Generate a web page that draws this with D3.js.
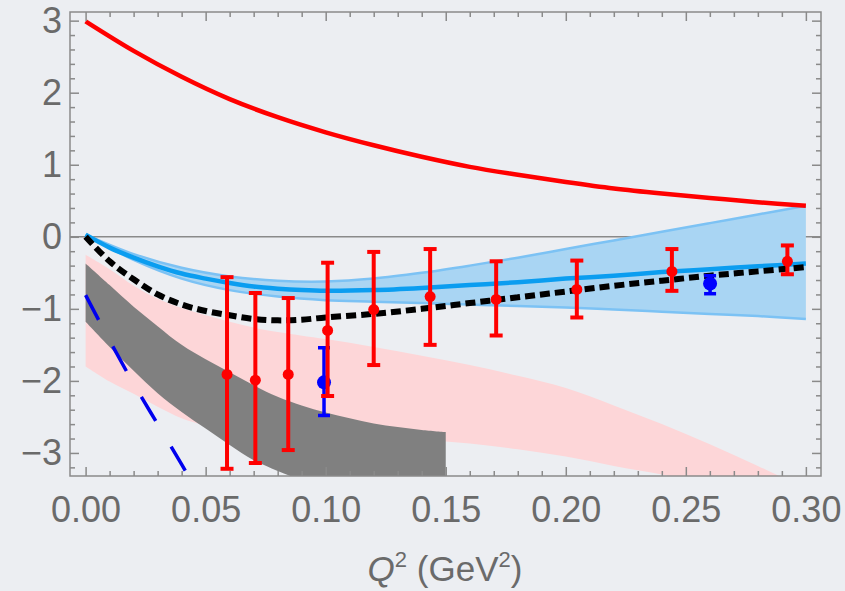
<!DOCTYPE html>
<html>
<head>
<meta charset="utf-8">
<script src="https://cdn.jsdelivr.net/npm/d3@7"></script>
<style>
  html, body { margin: 0; padding: 0; background: #eceef2; }
  svg { display: block; }
  .tick text { font-family: "Liberation Sans", Arial, sans-serif; fill: #6a6a6a; }
</style>
</head>
<body>
<svg id="chart"></svg>
<script>
const width = 845;
const height = 591;

// data: [Q2, value]
const redCurve = [[0, 2.99], [0.02, 2.58], [0.04, 2.22], [0.06, 1.91], [0.08, 1.66], [0.1, 1.45],
  [0.12, 1.27], [0.14, 1.11], [0.16, 0.97], [0.18, 0.86], [0.2, 0.76], [0.22, 0.67],
  [0.24, 0.6], [0.26, 0.54], [0.28, 0.48], [0.3, 0.43]];
const blueCurve = [[0, 0.03], [0.01, -0.15], [0.02, -0.29], [0.03, -0.41], [0.04, -0.51], [0.05, -0.58],
  [0.06, -0.64], [0.07, -0.69], [0.08, -0.72], [0.09, -0.74], [0.1, -0.75], [0.12, -0.74],
  [0.14, -0.71], [0.16, -0.67], [0.18, -0.63], [0.2, -0.58], [0.22, -0.54], [0.24, -0.49],
  [0.26, -0.45], [0.28, -0.41], [0.3, -0.37]];
const blueBandUpper = [[0, 0.03], [0.02, -0.24], [0.04, -0.43], [0.06, -0.55], [0.08, -0.61], [0.1, -0.62],
  [0.12, -0.58], [0.14, -0.5], [0.16, -0.4], [0.18, -0.29], [0.2, -0.17], [0.22, -0.05],
  [0.24, 0.07], [0.26, 0.19], [0.28, 0.31], [0.3, 0.43]];
const blueBandLower = [[0, 0.03], [0.02, -0.32], [0.04, -0.58], [0.06, -0.74], [0.08, -0.83], [0.1, -0.88],
  [0.12, -0.9], [0.14, -0.92], [0.16, -0.94], [0.18, -0.96], [0.2, -0.98], [0.22, -1.01],
  [0.24, -1.04], [0.26, -1.07], [0.28, -1.1], [0.3, -1.14]];
const blackCurve = [[0, 0], [0.01, -0.34], [0.02, -0.59], [0.03, -0.8], [0.04, -0.94], [0.05, -1.03],
  [0.06, -1.09], [0.07, -1.14], [0.08, -1.16], [0.09, -1.15], [0.1, -1.12], [0.12, -1.07],
  [0.14, -1.0], [0.16, -0.92], [0.18, -0.84], [0.2, -0.76], [0.22, -0.68], [0.24, -0.61],
  [0.26, -0.54], [0.28, -0.48], [0.3, -0.42]];
const pinkUpper = [[0, -0.25], [0.01, -0.45], [0.02, -0.68], [0.03, -0.86], [0.04, -0.99], [0.05, -1.09],
  [0.06, -1.18], [0.07, -1.26], [0.08, -1.32], [0.1, -1.42], [0.12, -1.53], [0.14, -1.65],
  [0.16, -1.78], [0.18, -1.93], [0.2, -2.1], [0.22, -2.34], [0.24, -2.6], [0.26, -2.88],
  [0.28, -3.18], [0.3, -3.5]];
const pinkLower = [[0, -1.8], [0.01, -2.01], [0.02, -2.18], [0.03, -2.36], [0.04, -2.52], [0.05, -2.62],
  [0.06, -2.68], [0.07, -2.72], [0.08, -2.74], [0.1, -2.77], [0.12, -2.79], [0.14, -2.82],
  [0.16, -2.87], [0.18, -2.95], [0.2, -3.05], [0.22, -3.18], [0.24, -3.3], [0.26, -3.45],
  [0.28, -3.6], [0.3, -3.75]];
const greyUpper = [[0, -0.37], [0.01, -0.67], [0.02, -0.97], [0.03, -1.24], [0.04, -1.5], [0.05, -1.7],
  [0.06, -1.88], [0.07, -2.06], [0.08, -2.22], [0.09, -2.34], [0.1, -2.44], [0.11, -2.52],
  [0.12, -2.59], [0.13, -2.64], [0.14, -2.68], [0.15, -2.71]];
const greyLower = [[0, -1.18], [0.01, -1.53], [0.02, -1.86], [0.03, -2.17], [0.04, -2.43], [0.05, -2.66],
  [0.06, -2.89], [0.07, -3.1], [0.08, -3.25], [0.09, -3.38], [0.1, -3.5], [0.12, -3.65],
  [0.15, -3.9]];
const blueDashed = [[0, -0.81], [0.01, -1.44], [0.02, -2.04], [0.03, -2.6], [0.04, -3.16], [0.045, -3.45]];

// points with error bars: [Q2, value, upper, lower]
const redPoints = [
  [0.0589, -1.91, -0.56, -3.22], [0.0707, -1.99, -0.78, -3.14], [0.0844, -1.91, -0.85, -2.96],
  [0.1008, -1.3, -0.36, -2.21], [0.120, -1.01, -0.21, -1.78], [0.1435, -0.83, -0.17, -1.5],
  [0.171, -0.87, -0.34, -1.37], [0.2046, -0.73, -0.33, -1.12], [0.2442, -0.48, -0.17, -0.75],
  [0.2923, -0.34, -0.12, -0.52]];
const bluePoints = [[0.0993, -2.02, -1.54, -2.48], [0.2601, -0.65, -0.54, -0.79]];

const xMajor = [0, 0.05, 0.1, 0.15, 0.2, 0.25, 0.3];
const yMajor = [-3, -2, -1, 0, 1, 2, 3];

const x = d3.scaleLinear().domain([-0.0065, 0.3063]).range([70, 821]);
const y = d3.scaleLinear().domain([-3.32, 3.12]).range([476, 12]);

const svg = d3.select("#chart").attr("width", width).attr("height", height);

svg.append("rect").attr("width", width).attr("height", height).attr("fill", "#eceef2");

svg.append("clipPath").attr("id", "plot-clip")
  .append("rect")
  .attr("x", x.range()[0]).attr("y", y.range()[1])
  .attr("width", x.range()[1] - x.range()[0])
  .attr("height", y.range()[0] - y.range()[1]);

const plot = svg.append("g").attr("clip-path", "url(#plot-clip)");

const curve = d3.curveCatmullRom.alpha(0.5);
const line = d3.line().x((d) => x(d[0])).y((d) => y(d[1])).curve(curve);

const bandArea = (upper, lower) => {
  const up = line(upper);
  const lo = line(lower.slice().reverse());
  return up + "L" + lo.slice(1) + "Z";
};

// zero line
plot.append("line")
  .attr("x1", x.range()[0]).attr("x2", x.range()[1])
  .attr("y1", y(0)).attr("y2", y(0))
  .attr("stroke", "#8a8a8a").attr("stroke-width", 1.5);

// pink band
plot.append("path").attr("d", bandArea(pinkUpper, pinkLower)).attr("fill", "#fdd6d8");
// grey band
plot.append("path").attr("d", bandArea(greyUpper, greyLower)).attr("fill", "#808080");
// blue band
plot.append("path").attr("d", bandArea(blueBandUpper, blueBandLower)).attr("fill", "#a9d5f3");
plot.append("path").attr("d", line(blueBandUpper)).attr("fill", "none")
  .attr("stroke", "#7cc2f4").attr("stroke-width", 2.5);
plot.append("path").attr("d", line(blueBandLower)).attr("fill", "none")
  .attr("stroke", "#7cc2f4").attr("stroke-width", 2.5);

// blue dashed line
plot.append("path").attr("d", line(blueDashed)).attr("fill", "none")
  .attr("stroke", "#0000ee").attr("stroke-width", 3.5)
  .attr("stroke-dasharray", "28 30");

// red curve
plot.append("path").attr("d", line(redCurve)).attr("fill", "none")
  .attr("stroke", "#ff0000").attr("stroke-width", 4.5);

// blue curve
plot.append("path").attr("d", line(blueCurve)).attr("fill", "none")
  .attr("stroke", "#0b9df0").attr("stroke-width", 4.5);

// black dotted curve
plot.append("path").attr("d", line(blackCurve)).attr("fill", "none")
  .attr("stroke", "#000").attr("stroke-width", 6)
  .attr("stroke-dasharray", "10 5");

const drawPoints = (data, color, r, sw, cap) => {
  const g = plot.append("g");
  g.selectAll("line.bar").data(data).join("line")
    .attr("x1", (d) => x(d[0])).attr("x2", (d) => x(d[0]))
    .attr("y1", (d) => y(d[2])).attr("y2", (d) => y(d[3]))
    .attr("stroke", color).attr("stroke-width", sw);
  g.selectAll("line.top").data(data).join("line")
    .attr("x1", (d) => x(d[0]) - cap / 2).attr("x2", (d) => x(d[0]) + cap / 2)
    .attr("y1", (d) => y(d[2])).attr("y2", (d) => y(d[2]))
    .attr("stroke", color).attr("stroke-width", sw);
  g.selectAll("line.bot").data(data).join("line")
    .attr("x1", (d) => x(d[0]) - cap / 2).attr("x2", (d) => x(d[0]) + cap / 2)
    .attr("y1", (d) => y(d[3])).attr("y2", (d) => y(d[3]))
    .attr("stroke", color).attr("stroke-width", sw);
  g.selectAll("circle").data(data).join("circle")
    .attr("cx", (d) => x(d[0])).attr("cy", (d) => y(d[1]))
    .attr("r", r).attr("fill", color);
};

drawPoints(bluePoints, "#0000ff", 7, 3.5, 12);
drawPoints(redPoints, "#ff0000", 5.5, 4, 13);

// frame
svg.append("rect")
  .attr("x", x.range()[0]).attr("y", y.range()[1])
  .attr("width", x.range()[1] - x.range()[0])
  .attr("height", y.range()[0] - y.range()[1])
  .attr("fill", "none").attr("stroke", "#8a8a8a").attr("stroke-width", 1.5);

// minor ticks
const xMinor = d3.range(0, 31).map((i) => i / 100).filter((v) => !xMajor.some((m) => Math.abs(m - v) < 1e-9));
const yMinor = d3.range(-16, 16).map((i) => i / 5).filter((v) => !yMajor.some((m) => Math.abs(m - v) < 1e-9))
  .filter((v) => v > -3.32 && v < 3.12);

const tickStyle = (sel) => {
  sel.select(".domain").remove();
  sel.selectAll("line").attr("stroke", "#8a8a8a").attr("stroke-width", 1.5);
  sel.selectAll("text").style("font-size", "36px");
};

svg.append("g").attr("transform", `translate(0,${y.range()[0]})`)
  .call(d3.axisBottom(x).tickValues(xMajor).tickFormat(d3.format(".2f")).tickSizeInner(-9).tickPadding(20))
  .call(tickStyle);
svg.append("g").attr("transform", `translate(0,${y.range()[0]})`)
  .call(d3.axisBottom(x).tickValues(xMinor).tickFormat("").tickSizeInner(-5))
  .call(tickStyle);
svg.append("g").attr("transform", `translate(0,${y.range()[1]})`)
  .call(d3.axisTop(x).tickValues(xMajor).tickFormat("").tickSizeInner(-9))
  .call(tickStyle);
svg.append("g").attr("transform", `translate(0,${y.range()[1]})`)
  .call(d3.axisTop(x).tickValues(xMinor).tickFormat("").tickSizeInner(-5))
  .call(tickStyle);

svg.append("g").attr("transform", `translate(${x.range()[0]},0)`)
  .call(d3.axisLeft(y).tickValues(yMajor).tickFormat(d3.format("d")).tickSizeInner(-9).tickPadding(8))
  .call(tickStyle);
svg.append("g").attr("transform", `translate(${x.range()[0]},0)`)
  .call(d3.axisLeft(y).tickValues(yMinor).tickFormat("").tickSizeInner(-5))
  .call(tickStyle);
svg.append("g").attr("transform", `translate(${x.range()[1]},0)`)
  .call(d3.axisRight(y).tickValues(yMajor).tickFormat("").tickSizeInner(-9))
  .call(tickStyle);
svg.append("g").attr("transform", `translate(${x.range()[1]},0)`)
  .call(d3.axisRight(y).tickValues(yMinor).tickFormat("").tickSizeInner(-5))
  .call(tickStyle);

// axis title
const title = svg.append("text")
  .attr("x", 445).attr("y", 581)
  .attr("text-anchor", "middle")
  .style("font-family", "'Liberation Sans', Arial, sans-serif")
  .style("font-size", "35px")
  .attr("fill", "#6a6a6a");
title.append("tspan").text("Q").style("font-style", "italic");
title.append("tspan").text("2").attr("dy", -14).style("font-size", "22px");
title.append("tspan").text(" (GeV").attr("dy", 14);
title.append("tspan").text("2").attr("dy", -14).style("font-size", "22px");
title.append("tspan").text(")").attr("dy", 14);
</script>
</body>
</html>
